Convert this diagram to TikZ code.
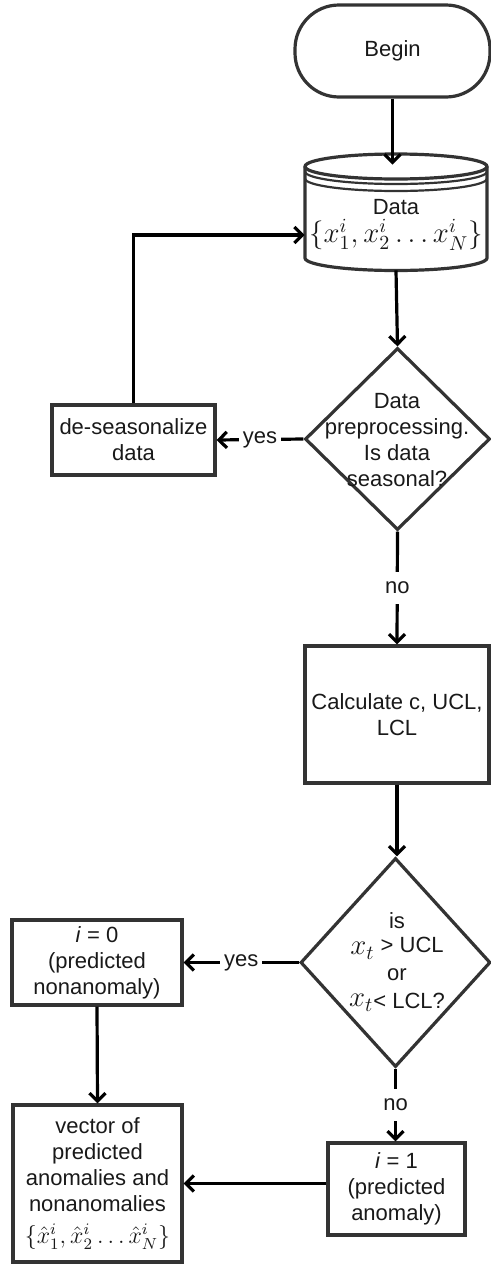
\documentclass[tikz,border=0pt]{standalone}
\usepackage{amsmath}
\usepackage{fontspec}
\setmainfont{Liberation Sans}
\usetikzlibrary{shapes.geometric, arrows.meta, positioning, calc}

\tikzset{
  boxline/.style={draw=black!80, line width=1.6pt},
  flowtext/.style={align=center, text=black!90, font=\fontsize{11}{13}\selectfont},
  process/.style={boxline, rectangle, flowtext, inner sep=2pt},
  decision/.style={boxline, diamond, inner sep=0pt},
  arrowline/.style={->, line width=1.6pt},
  branch/.style={fill=white, inner xsep=2pt, inner ysep=5pt, flowtext}
}

\begin{document}
\begin{tikzpicture}[x=0.5pt,y=-0.5pt,>={Straight Barb[length=4pt,width=8pt]}]
\useasboundingbox (0,0) rectangle (491,1264);
% Begin and the data store
\node [process, rounded corners=22pt, minimum width=97.5pt, minimum height=46pt] (begin) at (392.5,51) {Begin};
\node [minimum width=91pt, minimum height=52.5pt, inner sep=0pt] (data) at (396,217.5) {};
\draw [boxline] (396,166.5) ellipse [x radius=45.5pt, y radius=6.25pt];
\draw [boxline] (305,166.5) -- (305,258) arc [start angle=180, end angle=360, x radius=45.5pt, y radius=6.25pt] -- (487,166.5);
\draw [boxline, line width=1.1pt] (305,171.5) arc [start angle=180, end angle=360, x radius=45.5pt, y radius=6.25pt];
\draw [boxline, line width=1.1pt] (305,178.5) arc [start angle=180, end angle=360, x radius=45.5pt, y radius=6.25pt];
\node [flowtext] (datatext) at (396,225) {Data\\[1pt]{\Large$\{x_1^i, x_2^i \ldots x_N^i\}$}};
\coordinate (datain) at ([yshift=-8.75pt]data.west);

% First decision
\node [decision, minimum width=92.5pt, minimum height=91pt] (prep) at (397.5,439) {};
\node [flowtext] (preptext) at (397,440) {Data\\preprocessing.\\Is data\\seasonal?};
\node [process, minimum width=81.5pt, minimum height=35pt] (deseason) at (133.5,440) {de-seasonalize\\data};
\node [process, minimum width=92pt, minimum height=68.5pt] (calc) at (397,714.5) {Calculate c, UCL,\\LCL};

% Second decision
\node [decision, minimum width=95pt, minimum height=104.5pt] (check) at (395.5,962.5) {};
\node [flowtext] (checktext) at (397,962) {is\\{\Large$x_t$} \raisebox{1pt}{> UCL}\\or\\{\Large$x_t$}\raisebox{-1pt}{< LCL?}};
\node [process, minimum width=85pt, minimum height=42.5pt] (zero) at (97,962.5) {\textit{i} = 0\\(predicted\\nonanomaly)};
\node [process, minimum width=68.5pt, minimum height=46pt] (one) at (396.5,1189) {\textit{i} = 1\\(predicted\\anomaly)};
\node [process, minimum width=84.5pt, minimum height=78.5pt] (vector) at (97.5,1183.5) {vector of\\predicted\\anomalies and\\nonanomalies\\[3pt]{\large$\{\hat{x}_1^i, \hat{x}_2^i \ldots \hat{x}_N^i\}$}};

% Connectors
\draw [arrowline] (begin.south) -- (begin.south |- data.north);
\draw [arrowline] (data.south) -- (prep.north);
\draw [arrowline] (prep.west) -- node [branch] {yes} (deseason.east);
\draw [arrowline] (deseason.north) |- (datain);
\draw [arrowline] (prep.south) -- node [branch] {no} (calc.north);
\draw [arrowline] (calc.south) -- (calc.south |- check.north);
\draw [arrowline] (check.west) -- node [branch] {yes} (zero.east);
\draw [arrowline] (check.south) -- node [branch] {no} (check.south |- one.north);
\draw [arrowline] (zero.south) -- (vector.north);
\draw [arrowline] (vector.east -| one.west) -- (vector.east);
\end{tikzpicture}
\end{document}
